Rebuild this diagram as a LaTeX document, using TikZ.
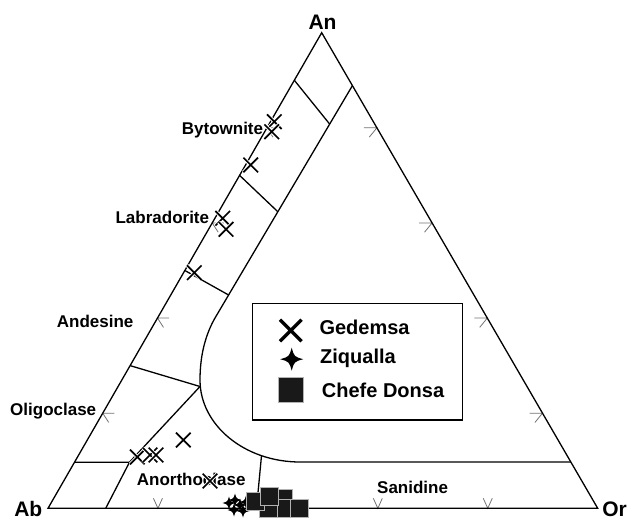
\documentclass[tikz,border=0pt]{standalone}
\usepackage{fontspec}
\setmainfont{Liberation Sans}
\usetikzlibrary{calc}
\tikzset{
  field/.style={font=\fontsize{17}{20}\selectfont\bfseries, inner sep=0pt},
  corner/.style={font=\fontsize{21}{24}\selectfont\bfseries, inner sep=0pt, anchor=base},
  keytext/.style={font=\fontsize{20}{24}\selectfont\bfseries, inner sep=0pt, anchor=base west},
  tickmark/.style={black!55, line width=0.8pt},
  bound/.style={line width=1.3pt},
  pics/gedem/.style={code={
    \draw[white, line width=#1+1.8pt] (-1,-1) -- (1,1) (-1,1) -- (1,-1);
    \draw[line width=#1] (-1,-1) -- (1,1) (-1,1) -- (1,-1);}},
  pics/gedem/.default=1.7pt,
  pics/ziq/.style={code={
    \fill (0,-1) .. controls (0.22,-0.22) .. (1,0)
      .. controls (0.22,0.22) .. (0,1) .. controls (-0.22,0.22) .. (-1,0)
      .. controls (-0.22,-0.22) .. cycle;}},
  pics/chefe/.style={code={
    \filldraw[fill=black!90, draw=black!30, line width=0.8pt] (-1,-1) rectangle (1,1);}}
}
\begin{document}
\begin{tikzpicture}[x=1pt, y=-1pt]
    \useasboundingbox (0,0) rectangle (629,521);
    %% Corners
    \coordinate (Ab) at (48,508.3);
    \coordinate (Or) at (597.7,508.3);
    \coordinate (An) at (321.7,32.7);
    %% Ticks
    \foreach \t in {0.2,0.4,0.6,0.8}{
        \draw[tickmark] ($(Ab)!\t!(Or)$) +(-4.5,-10) -- +(0,0) -- +(4.5,-10);
        \draw[tickmark] ($(Or)!\t!(An)$) +(-13,0) -- +(0,0) -- +(-7.6,9.3);
        \draw[tickmark] ($(An)!\t!(Ab)$) +(11.7,0) -- +(0,0) -- +(6,9.3);
    }
    %% Triangle
    \draw[bound] (Ab) -- (Or) -- (An) -- cycle;
    %% Field boundaries
    \coordinate (bend) at (215,318);
    \coordinate (mid) at (228.6,295);
    \coordinate (h1) at (300,462);
    \coordinate (h2) at (400,462);
    \coordinate (top) at (intersection of An--Or and bend--mid);
    \coordinate (right) at (intersection of An--Or and h1--h2);
    \draw[bound] (top) -- (bend) .. controls (207,332) and (200,352) .. (200,380)
        .. controls (200,425.3) and (244.8,462) .. (h1) -- (right);
    \draw[bound] ($(Ab)!0.9!(An)$) -- (329.6,124);
    \draw[bound] ($(Ab)!0.7!(An)$) -- (277.8,211.7);
    \draw[bound] ($(Ab)!0.5!(An)$) -- (mid);
    \draw[bound] ($(Ab)!0.3!(An)$) -- (200,386.5);
    \draw[bound] ($(Ab)!0.097!(An)$) -- (129.5,462.2);
    \draw[bound] ($(Ab)!0.105!(Or)$) -- (129.5,462.2) -- (200,386.5);
    \draw[bound] (261.5,455.7) -- (256.5,508.3);
    %% Labels
    \node[corner] (lAn) at (322.5,30) {An};
    \node[corner] (lAb) at (28.3,516.5) {Ab};
    \node[corner] (lOr) at (614.5,516.5) {Or};
    \node[field, anchor=base east] (byt) at (263.3,134.3) {Bytownite};
    \node[field, anchor=base east] (lab) at (209.3,223.3) {Labradorite};
    \node[field, anchor=base west] (ande) at (56.7,327.3) {Andesine};
    \node[field, anchor=base west] (olig) at (10,415.8) {Oligoclase};
    \node[field, anchor=base west] (anor) at (136.7,485) {Anorthoclase};
    \node[field, anchor=base west] (sani) at (377,493.3) {Sanidine};
    %% Legend
    \draw[line width=1.3pt] (252.3,303.3) rectangle (462.7,420);
    \pic[scale=10.8] at (290.8,330.5) {gedem=3.3pt};
    \pic[scale=11.5] at (291.7,359.2) {ziq};
    \pic[scale=12.5] at (290.8,390) {chefe};
    \node[keytext] (kGed) at (319.3,334.5) {Gedemsa};
    \node[keytext] (kZiq) at (320,363.3) {Ziqualla};
    \node[keytext] (kChe) at (321.7,397) {Chefe Donsa};
    %% Gedemsa
    \foreach \p in {(274.3,121.7),(271.7,131.7),(250.7,165),(222.7,218.3),(226,229.3),
        (194.3,272.7),(183.3,440),(137.3,457),(150,455),(156,455),(210,481)}
        \pic[scale=7.3] at \p {gedem};
    %% Ziqualla
    \foreach \p in {(229,503),(235,500),(240,505),(234,510),(243,511),(246,502)}
        \pic[scale=6.5] at \p {ziq};
    %% Chefe Donsa
    \foreach \p in {(283,498),(282,508),(268.5,508),(255,501),(269,496),(299.5,508)}
        \pic[scale=9] at \p {chefe};
\end{tikzpicture}
\end{document}
